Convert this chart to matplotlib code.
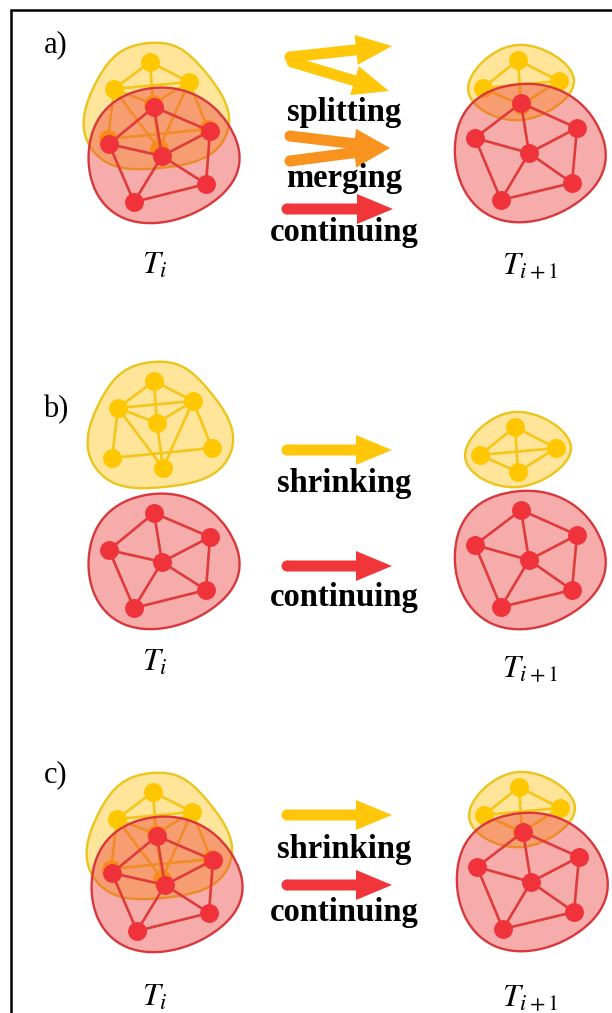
import numpy as np
import matplotlib
matplotlib.use('Agg')
import matplotlib.pyplot as plt
from matplotlib.path import Path
from matplotlib.patches import PathPatch, FancyArrow, Circle

plt.rcParams['mathtext.fontset'] = 'stix'

# ---- base graphs (pixel positions, panel b) ----
big_yellow_x = [154, 118, 193, 157, 112, 212, 163]
big_yellow_y = [381, 408, 401, 423, 458, 448, 468]
big_yellow_edges = [(0, 1), (0, 2), (0, 3), (1, 2), (1, 3), (2, 3), (1, 4),
                    (1, 6), (3, 6), (2, 6), (2, 5), (4, 5)]

red_left_x = [154, 109, 210, 162, 206, 134]
red_left_y = [513, 550, 537, 562, 590, 608]
red_edges = [(0, 1), (0, 2), (0, 3), (1, 3), (3, 2), (1, 5), (3, 5), (3, 4),
             (2, 4), (5, 4)]

small_yellow_x = [515, 480, 556, 518]
small_yellow_y = [427, 455, 448, 472]
small_yellow_edges = [(0, 1), (0, 2), (0, 3), (1, 2), (1, 3), (2, 3)]

red_right_x = [521, 475, 577, 529, 572, 501]
red_right_y = [510, 545, 535, 560, 590, 607]

# ---- panel layout ----
panel_labels = ['a)', 'b)', 'c)']
panel_label_y = [45, 410, 775]
left_yellow_shift = [(-4, -319), (0, 0), (-1, 411)]
left_red_shift = [(0, -406), (0, 0), (3, 323)]
right_yellow_shift = [(3, -367), (0, 0), (4, 360)]
right_red_shift = [(0, -407), (0, 0), (2, 322)]
time_label_left_y = [265, 662, 997]
time_label_right_y = [265, 668, 997]

arrow_tail_x = [[290, 292, 290, 290, 287], [287, 287], [287, 287]]
arrow_tail_y = [[57, 62, 136, 161, 209], [450, 566], [815, 885]]
arrow_tip_x = [[392, 389, 390, 390, 393], [392, 392], [392, 392]]
arrow_tip_y = [[46, 91, 148, 148, 209], [450, 566], [815, 885]]
arrow_kind = [['y', 'y', 'o', 'o', 'r'], ['y', 'r'], ['y', 'r']]
words = [['splitting', 'merging', 'continuing'], ['shrinking', 'continuing'],
         ['shrinking', 'continuing']]
word_y = [[112, 178, 232], [483, 597], [849, 912]]

ARROW_COL = {'y': '#FFC60A', 'o': '#F7931E', 'r': '#F0363A'}
Y_NODE, Y_LINE, Y_EDGE, Y_FILL = '#FFC700', '#F5C518', '#EBC41C', '#FFE38F'
R_NODE, R_LINE, R_EDGE, R_FILL = '#F0323A', '#E03A3A', '#D8383C', '#EE3B3B'

fig = plt.figure(figsize=(6.12, 10.13), dpi=100)
ax = fig.add_axes([0, 0, 1, 1])
ax.set_xlim(0, 612)
ax.set_ylim(1013, 0)
ax.axis('off')


def hull(pts):
    p = sorted(map(tuple, pts))
    def cross(o, a, b):
        return (a[0]-o[0])*(b[1]-o[1]) - (a[1]-o[1])*(b[0]-o[0])
    lo, up = [], []
    for q in p:
        while len(lo) >= 2 and cross(lo[-2], lo[-1], q) <= 0:
            lo.pop()
        lo.append(q)
    for q in reversed(p):
        while len(up) >= 2 and cross(up[-2], up[-1], q) <= 0:
            up.pop()
        up.append(q)
    return np.array(lo[:-1] + up[:-1], float)


def blob(xs, ys, pad, fill, edge, alpha, z):
    h = hull(np.column_stack([xs, ys]))
    c = h.mean(axis=0)
    d = h - c
    P = h + pad * d / np.linalg.norm(d, axis=1)[:, None]
    N = len(P)
    verts, codes = [P[0]], [Path.MOVETO]
    k = 1 / 4.3
    for i in range(N):
        p0, p1, p2, p3 = P[i-1], P[i], P[(i+1) % N], P[(i+2) % N]
        verts += [p1 + (p2-p0)*k, p2 - (p3-p1)*k, p2]
        codes += [Path.CURVE4]*3
    path = Path(verts, codes)
    ax.add_patch(PathPatch(path, facecolor=fill, alpha=alpha, edgecolor='none', zorder=z))
    ax.add_patch(PathPatch(path, facecolor='none', edgecolor=edge, lw=1.7, zorder=z+0.1))


def graph(xs, ys, edges, shift, node_col, line_col, fill, edge, alpha, z, pad):
    x = np.array(xs) + shift[0]
    y = np.array(ys) + shift[1]
    blob(x, y, pad, fill, edge, alpha, z)
    for a, b in edges:
        ax.plot([x[a], x[b]], [y[a], y[b]], color=line_col, lw=1.9, zorder=z+0.2,
                solid_capstyle='round')
    ax.scatter(x, y, s=185, color=node_col, zorder=z+0.3, linewidths=0)


for p in range(3):
    graph(big_yellow_x, big_yellow_y, big_yellow_edges, left_yellow_shift[p],
          Y_NODE, Y_LINE, Y_FILL, Y_EDGE, 0.9, 1, 19)
    graph(red_left_x, red_left_y, red_edges, left_red_shift[p],
          R_NODE, R_LINE, R_FILL, R_EDGE, 0.42, 2, 19)
    graph(small_yellow_x, small_yellow_y, small_yellow_edges, right_yellow_shift[p],
          Y_NODE, Y_LINE, Y_FILL, Y_EDGE, 0.9, 1, 15)
    graph(red_right_x, red_right_y, red_edges, right_red_shift[p],
          R_NODE, R_LINE, R_FILL, R_EDGE, 0.42, 2, 19)

    for tx, ty, hx, hy, kd in zip(arrow_tail_x[p], arrow_tail_y[p], arrow_tip_x[p],
                                  arrow_tip_y[p], arrow_kind[p]):
        ax.add_patch(FancyArrow(tx, ty, hx-tx, hy-ty, width=11, head_width=30,
                                head_length=36, length_includes_head=True,
                                color=ARROW_COL[kd], lw=0, zorder=3))
        ax.add_patch(Circle((tx, ty), 5.5, color=ARROW_COL[kd], lw=0, zorder=3))
    for w, wy in zip(words[p], word_y[p]):
        ax.text(344, wy, w, ha='center', va='center', fontsize=23.5,
                family='Liberation Serif', weight='bold', zorder=4)

    ax.text(56, panel_label_y[p], panel_labels[p], ha='center', va='center',
            fontsize=22, family='Liberation Serif')
    ax.text(155, time_label_left_y[p], r'$T_{i}$', ha='center', va='center',
            fontsize=23)
    ax.text(530, time_label_right_y[p], r'$T_{i+1}$', ha='center', va='center',
            fontsize=23)

ax.plot([11, 11, 612], [1013, 10, 10], color='black', lw=1.8, zorder=5,
        solid_joinstyle='miter')

fig.savefig('out.png', dpi=100)
